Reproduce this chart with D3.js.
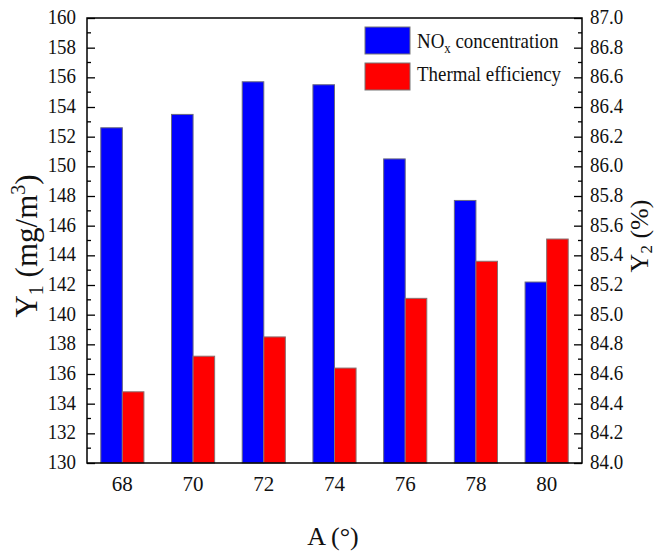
<!DOCTYPE html>
<html>
<head>
<meta charset="utf-8">
<script src="https://cdn.jsdelivr.net/npm/d3@7"></script>
<style>
  html, body { margin: 0; padding: 0; background: #fff; }
  svg { display: block; }
  svg text { font-family: "Liberation Serif", "Times New Roman", serif; }
</style>
</head>
<body>
<svg id="chart" width="657" height="551"></svg>
<script>
// Angle A (degrees) on the x axis
const categories = ["68", "70", "72", "74", "76", "78", "80"];
// NOx concentration, Y1 (mg/m3)
const noxValues = [152.6, 153.5, 155.7, 155.5, 150.5, 147.7, 142.2];
// Thermal efficiency, Y2 (%)
const effValues = [84.48, 84.72, 84.85, 84.64, 85.11, 85.36, 85.51];
const y1Ticks = [130, 132, 134, 136, 138, 140, 142, 144, 146, 148, 150, 152, 154, 156, 158, 160];
const y2Ticks = [84.0, 84.2, 84.4, 84.6, 84.8, 85.0, 85.2, 85.4, 85.6, 85.8, 86.0, 86.2, 86.4, 86.6, 86.8, 87.0];
const seriesNames = ["NOx concentration", "Thermal efficiency"];

const FONT = "Liberation Serif, Times New Roman, serif";
const svg = d3.select("#chart");
const m = { left: 87, right: 582, top: 18, bottom: 463 };

const x = d3.scaleBand().domain(categories).range([m.left, m.right]).paddingInner(0.39).paddingOuter(0.195);
const xs = d3.scaleBand().domain([0, 1]).range([0, x.bandwidth()]);
const y1 = d3.scaleLinear().domain([130, 160]).range([m.bottom, m.top]);
const y2 = d3.scaleLinear().domain([84, 87]).range([m.bottom, m.top]);

// bars
const g = svg.append("g");
g.selectAll("rect.nox").data(noxValues).join("rect")
  .attr("class", "nox")
  .attr("x", (d, i) => x(categories[i]) + xs(0))
  .attr("y", d => y1(d))
  .attr("width", xs.bandwidth())
  .attr("height", d => y1(130) - y1(d))
  .attr("fill", "#0000ff").attr("stroke", "#6a6a80").attr("stroke-width", 1);
g.selectAll("rect.eff").data(effValues).join("rect")
  .attr("class", "eff")
  .attr("x", (d, i) => x(categories[i]) + xs(1))
  .attr("y", d => y2(d))
  .attr("width", xs.bandwidth())
  .attr("height", d => y2(84) - y2(d))
  .attr("fill", "#ff0000").attr("stroke", "#8a7070").attr("stroke-width", 1);

// frame
svg.append("rect").attr("x", m.left).attr("y", m.top)
  .attr("width", m.right - m.left).attr("height", m.bottom - m.top)
  .attr("fill", "none").attr("stroke", "#000").attr("stroke-width", 1.5);

// left axis: inward major ticks plus minor ticks between
const leftAxis = svg.append("g").attr("transform", `translate(${m.left},0)`)
  .call(d3.axisLeft(y1).tickValues(y1Ticks).tickSize(-8).tickFormat(""));
leftAxis.select(".domain").remove();
leftAxis.selectAll("line").attr("stroke-width", 1.3);
const minor1 = d3.range(131, 160, 2);
svg.append("g").selectAll("line").data(minor1).join("line")
  .attr("x1", m.left).attr("x2", m.left + 4)
  .attr("y1", d => y1(d)).attr("y2", d => y1(d))
  .attr("stroke", "#000").attr("stroke-width", 1.3);
svg.append("g").selectAll("text").data(y1Ticks).join("text")
  .attr("text-anchor", "end")
  .attr("transform", d => `translate(76,${y1(d) + 6}) scale(0.86,1)`)
  .attr("font-family", FONT).attr("font-size", 22).attr("fill", "#111")
  .text(d => d);

// right axis
const rightAxis = svg.append("g").attr("transform", `translate(${m.right},0)`)
  .call(d3.axisRight(y2).tickValues(y2Ticks).tickSize(-8).tickFormat(""));
rightAxis.select(".domain").remove();
rightAxis.selectAll("line").attr("stroke-width", 1.3);
const minor2 = d3.range(0, 15).map(i => 84.1 + i * 0.2);
svg.append("g").selectAll("line").data(minor2).join("line")
  .attr("x1", m.right).attr("x2", m.right - 4)
  .attr("y1", d => y2(d)).attr("y2", d => y2(d))
  .attr("stroke", "#000").attr("stroke-width", 1.3);
svg.append("g").selectAll("text").data(y2Ticks).join("text")
  .attr("text-anchor", "start")
  .attr("transform", d => `translate(590,${y2(d) + 6}) scale(0.86,1)`)
  .attr("font-family", FONT).attr("font-size", 22).attr("fill", "#111")
  .text(d => d.toFixed(1));

// bottom axis labels (no tick marks)
const bottomAxis = svg.append("g").attr("transform", `translate(0,${m.bottom})`)
  .call(d3.axisBottom(x).tickSize(0).tickPadding(22));
bottomAxis.select(".domain").remove();
bottomAxis.attr("font-family", FONT);
bottomAxis.selectAll("text").attr("font-size", 21).attr("font-family", FONT).attr("fill", "#111")
  .attr("dy", "0.3em");

// axis titles
svg.append("text").attr("x", 333).attr("y", 545).attr("text-anchor", "middle")
  .attr("font-family", FONT).attr("font-size", 26).attr("fill", "#111").text("A (°)");

const t1 = svg.append("text").attr("text-anchor", "middle")
  .attr("transform", "translate(37,246) rotate(-90)")
  .attr("font-family", FONT).attr("font-size", 31).attr("fill", "#111");
t1.append("tspan").text("Y");
t1.append("tspan").attr("font-size", 20).attr("dy", 6).text("1");
t1.append("tspan").attr("dy", -6).text(" (mg/m");
t1.append("tspan").attr("font-size", 20).attr("dy", -12).text("3");
t1.append("tspan").attr("dy", 12).text(")");

const t2 = svg.append("text").attr("text-anchor", "middle")
  .attr("transform", "translate(648,236) rotate(-90)")
  .attr("font-family", FONT).attr("font-size", 26).attr("fill", "#111");
t2.append("tspan").text("Y");
t2.append("tspan").attr("font-size", 17).attr("dy", 4).text("2");
t2.append("tspan").attr("dy", -4).text(" (%)");

// legend
const legend = svg.append("g");
const legColors = ["#0000ff", "#ff0000"];
seriesNames.forEach((name, i) => {
  const yy = 27 + i * 36;
  legend.append("rect").attr("x", 365).attr("y", yy).attr("width", 45).attr("height", 27)
    .attr("fill", legColors[i]).attr("stroke", "#777").attr("stroke-width", 1);
  const t = legend.append("text")
    .attr("transform", `translate(417,${48 + i * 33}) scale(0.86,1)`)
    .attr("font-family", FONT).attr("font-size", 22).attr("fill", "#111");
  if (i === 0) {
    t.append("tspan").text("NO");
    t.append("tspan").attr("font-size", 15).attr("dy", 5).text("x");
    t.append("tspan").attr("dy", -5).text(" concentration");
  } else {
    t.text(name);
  }
});
</script>
</body>
</html>
